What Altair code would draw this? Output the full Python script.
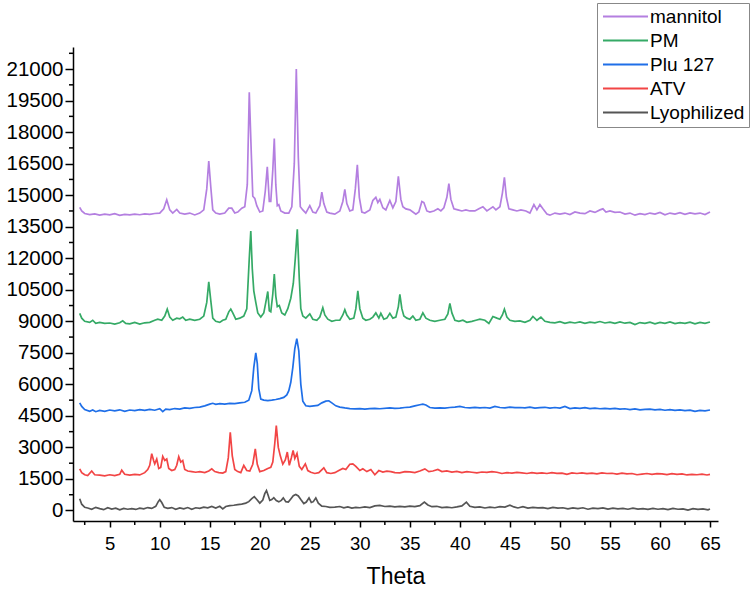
import altair as alt
import pandas as pd

# ---- diffraction patterns (Theta, intensity) ----
mannitol_x = [2.0, 2.2, 2.5, 3.0, 3.5, 4.0, 4.5, 5.0, 5.5, 6.0, 6.5, 7.0, 7.5, 8.0, 8.5, 9.0, 9.5, 10.0, 10.4, 10.7,
              11.0, 11.3, 11.7, 12.0, 12.5, 13.0, 13.5, 14.0, 14.4, 14.7, 14.9, 15.1, 15.3, 15.6, 16.0, 16.5, 16.9, 17.2,
              17.5, 17.8, 18.2, 18.5, 18.75, 18.95, 19.15, 19.3, 19.5, 19.7, 20.0, 20.3, 20.55, 20.75, 20.95, 21.1, 21.3,
              21.45, 21.6, 21.75, 21.9, 22.1, 22.5, 22.9, 23.2, 23.45, 23.65, 23.85, 24.05, 24.3, 24.6, 25.0, 25.3, 25.6,
              26.0, 26.2, 26.4, 26.7, 27.0, 27.5, 28.0, 28.3, 28.5, 28.7, 29.0, 29.3, 29.55, 29.75, 29.95, 30.2, 30.5,
              31.0, 31.3, 31.6, 31.8, 32.0, 32.3, 32.6, 33.0, 33.3, 33.6, 33.85, 34.1, 34.3, 34.6, 35.0, 35.3, 35.6, 35.9,
              36.2, 36.4, 36.7, 37.0, 37.4, 37.8, 38.1, 38.4, 38.7, 38.9, 39.1, 39.4, 39.8, 40.2, 40.6, 41.0, 41.5, 41.9,
              42.3, 42.7, 43.0, 43.3, 43.6, 44.0, 44.25, 44.45, 44.65, 44.9, 45.3, 45.7, 46.1, 46.6, 47.0, 47.4, 47.7,
              48.0, 48.3, 48.7, 49.0, 49.5, 50.0, 50.5, 51.0, 51.5, 52.0, 52.5, 53.0, 53.5, 54.0, 54.3, 54.6, 55.0, 55.5,
              56.0, 56.5, 57.0, 57.5, 58.0, 58.5, 59.0, 59.5, 60.0, 60.5, 61.0, 61.5, 62.0, 62.5, 63.0, 63.5, 64.0, 64.5,
              65.0]
mannitol_y = [14420, 14250, 14130, 14080, 14110, 14050, 14100, 14060, 14120, 14040, 14090, 14060, 14100, 14070, 14110,
              14090, 14130, 14150, 14350, 14780, 14300, 14150, 14320, 14150, 14100, 14150, 14060, 14150, 14300, 15300,
              16620, 15400, 14300, 14150, 14100, 14150, 14380, 14380, 14150, 14200, 14380, 14450, 15500, 19900, 17000,
              14950, 14850, 14500, 14200, 14250, 15200, 16350, 14700, 14700, 16200, 17700, 15500, 14500, 14550, 14250,
              14150, 14150, 14450, 16500, 21000, 16800, 14450, 14300, 14150, 14500, 14200, 14150, 14500, 15150, 14600,
              14200, 14150, 14100, 14250, 14700, 15280, 14600, 14250, 14300, 15300, 16450, 14900, 14200, 14150, 14300,
              14750, 14900, 14650, 14800, 14400, 14300, 14750, 14400, 14700, 15900, 14800, 14450, 14350, 14300, 14200,
              14100, 14200, 14700, 14650, 14250, 14200, 14250, 14350, 14250, 14400, 14900, 15550, 14800, 14350, 14300,
              14250, 14300, 14250, 14250, 14350, 14450, 14250, 14350, 14450, 14300, 14450, 15100, 15850, 14900, 14350,
              14300, 14250, 14300, 14250, 14150, 14550, 14300, 14550, 14350, 14100, 14050, 14150, 14100, 14150, 14080,
              14200, 14150, 14120, 14250, 14180, 14300, 14350, 14200, 14250, 14180, 14200, 14100, 14150, 14050, 14120,
              14080, 14150, 14100, 14180, 14070, 14150, 14100, 14170, 14090, 14160, 14110, 14150, 14080, 14200]

pm_x = [2.0, 2.2, 2.5, 3.0, 3.3, 3.6, 4.0, 4.5, 5.0, 5.5, 6.0, 6.3, 6.6, 7.0, 7.5, 8.0, 8.5, 9.0, 9.5, 9.8, 10.2, 10.5,
        10.75, 11.0, 11.3, 11.7, 12.0, 12.3, 12.6, 13.0, 13.5, 14.0, 14.4, 14.7, 14.9, 15.1, 15.3, 15.6, 16.0, 16.3,
        16.6, 16.9, 17.1, 17.3, 17.6, 18.0, 18.4, 18.7, 18.95, 19.1, 19.25, 19.4, 19.6, 19.8, 20.1, 20.4, 20.6, 20.8,
        20.95, 21.1, 21.3, 21.45, 21.6, 21.75, 21.95, 22.2, 22.5, 22.8, 23.1, 23.35, 23.55, 23.75, 23.95, 24.1, 24.3,
        24.6, 25.0, 25.3, 25.7, 26.0, 26.3, 26.5, 26.8, 27.2, 27.6, 28.0, 28.3, 28.5, 28.7, 29.0, 29.4, 29.6, 29.8,
        30.0, 30.3, 30.6, 31.0, 31.3, 31.6, 31.9, 32.1, 32.4, 32.7, 33.0, 33.3, 33.6, 33.85, 34.0, 34.2, 34.4, 34.7,
        35.0, 35.3, 35.6, 36.0, 36.3, 36.6, 37.0, 37.5, 38.0, 38.5, 38.8, 39.0, 39.2, 39.5, 39.9, 40.3, 40.7, 41.2,
        41.6, 42.0, 42.5, 42.9, 43.3, 43.7, 44.0, 44.25, 44.45, 44.7, 45.0, 45.5, 46.0, 46.5, 47.0, 47.3, 47.7, 48.1,
        48.5, 49.0, 49.5, 50.0, 50.5, 51.0, 51.5, 52.0, 52.5, 53.0, 53.5, 54.0, 54.5, 55.0, 55.5, 56.0, 56.5, 57.0,
        57.5, 58.0, 58.5, 59.0, 59.5, 60.0, 60.5, 61.0, 61.5, 62.0, 62.5, 63.0, 63.5, 64.0, 64.5, 65.0]
pm_y = [9380, 9150, 9000, 8950, 9050, 8900, 8950, 8900, 8920, 8870, 8930, 9020, 8900, 8880, 8950, 8870, 8930, 8950,
        9050, 9100, 9050, 9250, 9580, 9200, 9050, 9150, 9120, 9200, 9050, 9100, 9050, 9100, 9250, 9900, 10880, 10000,
        9150, 9000, 8950, 9050, 9100, 9450, 9580, 9400, 9100, 9150, 9250, 9600, 12000, 13300, 11500, 10450, 9900, 9400,
        9200, 9400, 9900, 10420, 9500, 9450, 10300, 11250, 10200, 9700, 9750, 9400, 9300, 9600, 10100, 10800, 12000,
        13380, 11000, 9600, 9250, 9150, 9350, 9100, 9050, 9200, 9650, 9300, 9100, 9000, 9050, 9050, 9300, 9550, 9300,
        9100, 9150, 9600, 10450, 9600, 9150, 9050, 9100, 9200, 9400, 9150, 9380, 9100, 9150, 9380, 9150, 9200, 9700,
        10280, 9600, 9250, 9150, 9100, 9250, 9050, 9100, 9400, 9150, 9050, 9000, 9050, 9100, 9350, 9850, 9400, 9050,
        9000, 9050, 8950, 9000, 9050, 9100, 9050, 8900, 9230, 9150, 9100, 9300, 9580, 9200, 9050, 9000, 9020, 8950,
        9050, 9230, 9050, 9200, 9000, 8950, 8930, 8980, 8900, 8960, 8920, 8970, 8900, 8960, 8930, 8990, 8920, 8960,
        8900, 8970, 8910, 8950, 8850, 8940, 8900, 8960, 8880, 8950, 8900, 8970, 8890, 8940, 8900, 8960, 8880, 8950,
        8900, 8970]

plu_x = [2.0, 2.2, 2.5, 3.0, 3.3, 3.6, 4.0, 4.5, 5.0, 5.5, 6.0, 6.5, 7.0, 7.5, 8.0, 8.5, 9.0, 9.5, 10.0, 10.3, 10.6,
         11.0, 11.5, 12.0, 12.5, 13.0, 13.5, 14.0, 14.5, 15.0, 15.3, 15.6, 16.0, 16.5, 17.0, 17.5, 18.0, 18.5, 18.9,
         19.2, 19.4, 19.6, 19.75, 19.9, 20.1, 20.4, 20.8, 21.2, 21.6, 22.0, 22.4, 22.7, 22.9, 23.1, 23.3, 23.5, 23.7,
         23.9, 24.1, 24.3, 24.6, 25.0, 25.4, 25.8, 26.2, 26.6, 26.9, 27.2, 27.6, 28.0, 28.5, 29.0, 29.5, 30.0, 30.5,
         31.0, 31.5, 32.0, 33.0, 33.5, 34.0, 34.5, 35.0, 35.5, 36.0, 36.3, 36.6, 37.0, 37.5, 38.0, 38.5, 39.0, 39.5,
         40.0, 40.5, 41.0, 41.5, 42.0, 42.5, 43.0, 43.5, 44.0, 44.5, 45.0, 45.5, 46.0, 46.5, 47.0, 47.5, 48.0, 48.5,
         49.0, 49.5, 50.0, 50.5, 51.0, 51.5, 52.0, 52.5, 53.0, 53.5, 54.0, 54.5, 55.0, 55.5, 56.0, 56.5, 57.0, 57.5,
         58.0, 58.5, 59.0, 59.5, 60.0, 60.5, 61.0, 61.5, 62.0, 62.5, 63.0, 63.5, 64.0, 64.5, 65.0]
plu_y = [5120, 4950, 4800, 4720, 4780, 4700, 4760, 4720, 4780, 4740, 4790, 4720, 4780, 4750, 4800, 4760, 4810, 4770,
         4840, 4700, 4820, 4800, 4850, 4820, 4880, 4860, 4900, 4920, 4980, 5060, 5100, 5050, 5080, 5060, 5100, 5080,
         5120, 5150, 5250, 5700, 6800, 7500, 7000, 5800, 5300, 5250, 5230, 5250, 5280, 5320, 5380, 5500, 5700, 6100,
         6800, 7700, 8180, 7600, 6000, 5200, 4980, 4950, 4980, 5000, 5120, 5200, 5220, 5120, 4980, 4920, 4880, 4850,
         4830, 4850, 4820, 4850, 4860, 4840, 4880, 4860, 4870, 4900, 4920, 4980, 5030, 5060, 5020, 4900, 4870, 4880,
         4870, 4900, 4920, 4950, 4900, 4880, 4910, 4880, 4900, 4870, 4950, 4900, 4880, 4920, 4890, 4900, 4880, 4920,
         4870, 4890, 4910, 4870, 4900, 4870, 4950, 4850, 4880, 4860, 4890, 4850, 4870, 4840, 4860, 4830, 4860, 4820,
         4840, 4800, 4830, 4790, 4810, 4820, 4790, 4810, 4770, 4800, 4760, 4790, 4750, 4770, 4720, 4760, 4740, 4780]

atv_x = [2.0, 2.2, 2.5, 2.8, 3.2, 3.5, 4.0, 4.5, 5.0, 5.5, 6.0, 6.2, 6.5, 7.0, 7.5, 8.0, 8.5, 8.8, 9.0, 9.2, 9.4, 9.5,
         9.7, 9.9, 10.1, 10.3, 10.5, 10.7, 10.9, 11.2, 11.5, 11.7, 11.9, 12.1, 12.3, 12.5, 12.8, 13.2, 13.6, 14.0, 14.5,
         14.9, 15.2, 15.5, 15.9, 16.3, 16.6, 16.85, 17.05, 17.25, 17.5, 17.8, 18.1, 18.4, 18.7, 19.0, 19.3, 19.55,
         19.75, 20.0, 20.4, 20.8, 21.1, 21.3, 21.5, 21.65, 21.85, 22.05, 22.3, 22.55, 22.75, 22.95, 23.15, 23.33,
         23.5, 23.72, 23.95, 24.2, 24.55, 24.8, 25.1, 25.5, 25.9, 26.4, 26.7, 27.1, 27.5, 27.9, 28.3, 28.6, 29.0,
         29.3, 29.6, 30.0, 30.3, 30.7, 31.1, 31.5, 31.9, 32.3, 32.7, 33.1, 33.5, 34.0, 34.5, 35.0, 35.5, 36.0, 36.5,
         36.9, 37.3, 37.8, 38.2, 38.7, 39.2, 39.7, 40.2, 40.7, 41.2, 41.7, 42.2, 42.7, 43.2, 43.7, 44.2, 44.7, 45.2,
         45.7, 46.2, 46.7, 47.2, 47.7, 48.2, 48.7, 49.2, 49.7, 50.2, 50.7, 51.2, 51.7, 52.2, 52.7, 53.2, 53.7, 54.2,
         54.7, 55.2, 55.7, 56.2, 56.7, 57.2, 57.7, 58.2, 58.7, 59.2, 59.7, 60.2, 60.7, 61.2, 61.7, 62.2, 62.7, 63.2,
         63.7, 64.2, 64.7, 65.0]
atv_y = [1980, 1800, 1700, 1660, 1880, 1700, 1680, 1650, 1700, 1660, 1720, 1920, 1720, 1680, 1720, 1690, 1800, 1950,
         2150, 2700, 2350, 2220, 2450, 2000, 2050, 2570, 2380, 2450, 2000, 1900, 1950, 2150, 2560, 2300, 2380, 1950,
         1880, 1850, 1820, 1850, 1800, 1880, 1980, 1850, 1800, 1780, 1850, 2500, 3720, 2600, 1950, 1850, 1800, 2140,
         1900, 1880, 2200, 2930, 2200, 1850, 1900, 2000, 2050, 2300, 3200, 4040, 3000, 2600, 2200, 2400, 2780, 2150,
         2500, 2860, 2480, 2720, 2100, 1950, 2220, 1900, 1820, 1760, 1800, 2030, 1800, 1760, 1800, 1900, 2000, 1950,
         2200, 2220, 2100, 1900, 1980, 1850, 1950, 1700, 1900, 1830, 1870, 1850, 1800, 1790, 1850, 1840, 1800, 1880,
         1980, 1850, 1880, 1950, 1850, 1880, 1830, 1860, 1800, 1850, 1820, 1790, 1830, 1810, 1850, 1820, 1760, 1800,
         1780, 1810, 1790, 1760, 1800, 1770, 1790, 1760, 1800, 1770, 1780, 1720, 1790, 1760, 1790, 1750, 1780, 1740,
         1790, 1760, 1770, 1730, 1780, 1740, 1760, 1700, 1730, 1760, 1720, 1750, 1740, 1710, 1750, 1720, 1740, 1690,
         1720, 1700, 1730, 1690, 1720]

lyo_x = [2.0, 2.2, 2.5, 2.8, 3.2, 3.6, 4.0, 4.4, 4.8, 5.2, 5.6, 6.0, 6.4, 6.8, 7.2, 7.6, 8.0, 8.4, 8.8, 9.2, 9.6, 9.85,
         10.0, 10.2, 10.45, 10.8, 11.2, 11.6, 12.0, 12.4, 12.8, 13.2, 13.6, 14.0, 14.4, 14.8, 15.2, 15.6, 16.0, 16.3,
         16.6, 17.0, 17.4, 17.8, 18.2, 18.6, 18.9, 19.2, 19.45, 19.7, 20.0, 20.3, 20.5, 20.67, 20.85, 21.0, 21.2, 21.4,
         21.65, 21.9, 22.15, 22.35, 22.6, 22.85, 23.1, 23.35, 23.6, 23.85, 24.1, 24.4, 24.65, 24.92, 25.15, 25.35,
         25.6, 25.85, 26.2, 26.6, 27.0, 27.5, 28.0, 28.4, 28.8, 29.2, 29.6, 30.0, 30.5, 31.0, 31.5, 32.0, 32.5, 33.0,
         33.5, 34.0, 34.5, 35.0, 35.5, 36.0, 36.45, 36.8, 37.2, 37.7, 38.2, 38.7, 39.2, 39.7, 40.2, 40.65, 41.0, 41.5,
         42.0, 42.5, 43.0, 43.5, 44.0, 44.5, 45.0, 45.4, 45.8, 46.3, 46.8, 47.3, 47.8, 48.3, 48.8, 49.3, 49.8, 50.3,
         50.8, 51.3, 51.8, 52.3, 52.8, 53.3, 53.8, 54.3, 54.8, 55.3, 55.8, 56.3, 56.8, 57.3, 57.8, 58.3, 58.8, 59.3,
         59.8, 60.3, 60.8, 61.3, 61.8, 62.3, 62.8, 63.3, 63.8, 64.3, 64.8, 65.0]
lyo_y = [560, 300, 150, 120, 60, 150, 90, 40, 130, 70, 110, 30, 100, 60, 90, 50, 110, 80, 140, 100, 200, 420, 510, 380,
         150, 100, 140, 60, 120, 80, 140, 60, 130, 100, 160, 130, 190, 120, 200, 80, 190, 230, 250, 280, 300, 350, 420,
         560, 660, 520, 350, 500, 800, 950, 700, 480, 520, 610, 470, 410, 480, 600, 420, 400, 550, 700, 760, 690, 520,
         330, 400, 600, 380, 420, 600, 350, 210, 190, 150, 160, 190, 130, 170, 110, 150, 130, 170, 140, 220, 240, 190,
         210, 170, 200, 170, 210, 180, 230, 400, 260, 180, 200, 140, 160, 130, 170, 220, 400, 200, 150, 170, 120, 160,
         130, 180, 160, 250, 170, 120, 180, 110, 150, 120, 140, 90, 150, 110, 130, 80, 120, 90, 130, 60, 110, 90, 120,
         70, 110, 80, 100, 60, 110, 70, 90, 50, 100, 60, 90, 40, 100, 60, 80, 20, 90, 50, 80, 30, 70]

series_names = ["mannitol", "PM", "Plu 127", "ATV", "Lyophilized"]
series_colors = ["#B47FE0", "#35AA66", "#1F6FE8", "#F24545", "#555555"]

x_ticks = [5, 10, 15, 20, 25, 30, 35, 40, 45, 50, 55, 60, 65]
x_minor = [2.5, 7.5, 12.5, 17.5, 22.5, 27.5, 32.5, 37.5, 42.5, 47.5, 52.5, 57.5, 62.5]
y_ticks = [0, 1500, 3000, 4500, 6000, 7500, 9000, 10500, 12000, 13500, 15000, 16500, 18000, 19500, 21000]
y_minor = [750, 2250, 3750, 5250, 6750, 8250, 9750, 11250, 12750, 14250, 15750, 17250, 18750, 20250, 21750]

frames = []
for name, xs, ys in [("mannitol", mannitol_x, mannitol_y), ("PM", pm_x, pm_y), ("Plu 127", plu_x, plu_y),
                     ("ATV", atv_x, atv_y), ("Lyophilized", lyo_x, lyo_y)]:
    frames.append(pd.DataFrame({"theta": xs, "intensity": ys, "sample": name}))
patterns = pd.concat(frames, ignore_index=True)

W, H = 645, 474
FONT = "Liberation Sans"
x_scale = alt.Scale(domain=[1.33, 65.8], nice=False, zero=False)
y_scale = alt.Scale(domain=[-500, 22050], nice=False, zero=False)

# one axis definition per channel, shared by every layer so they merge cleanly
x_axis = alt.Axis(values=x_ticks, title="Theta", grid=False, tickSize=6, labelPadding=7,
                  labelFontSize=18.5, labelOverlap=False,
                  titlePadding=13, titleFontSize=23, titleFontWeight="normal")
y_axis = alt.Axis(values=y_ticks, title=None, grid=False, tickSize=8, labelPadding=2,
                  labelFontSize=20.5, labelOverlap=False, format="d")

lines = alt.Chart(patterns).mark_line(strokeWidth=1.7, clip=True).encode(
    x=alt.X("theta:Q", scale=x_scale, axis=x_axis, title="Theta"),
    y=alt.Y("intensity:Q", scale=y_scale, axis=y_axis, title=None),
    color=alt.Color("sample:N", sort=series_names,
                    scale=alt.Scale(domain=series_names, range=series_colors),
                    legend=alt.Legend(title=None, orient="none", legendX=524, legendY=-44,
                                      symbolType="M-3,0L3,0", symbolSize=225, symbolStrokeWidth=2,
                                      labelFontSize=19, labelFont=FONT, labelColor="black",
                                      strokeColor="#888888", fillColor="white", padding=4,
                                      rowPadding=4, symbolOffset=15, labelOffset=15)),
    detail="sample:N",
)

# minor ticks drawn as short rules on the same scales
minor_x = alt.Chart(pd.DataFrame({"theta": x_minor})).mark_rule(color="black", strokeWidth=1.5).encode(
    x=alt.X("theta:Q", scale=x_scale, axis=x_axis, title="Theta"), y=alt.value(H), y2=alt.value(H + 4))
minor_y = alt.Chart(pd.DataFrame({"intensity": y_minor})).mark_rule(color="black", strokeWidth=1.5).encode(
    y=alt.Y("intensity:Q", scale=y_scale, axis=y_axis, title=None), x=alt.value(0), x2=alt.value(-4))

chart = alt.layer(lines, minor_x, minor_y).properties(
    width=W, height=H,
    autosize=alt.AutoSizeParams(type="none"),
    padding={"left": 73, "top": 47, "right": 38, "bottom": 72},
).configure_view(strokeWidth=0).configure_axis(
    labelFont=FONT, titleFont=FONT, labelColor="black", titleColor="black",
    domainColor="black", tickColor="black", domainWidth=1.5, tickWidth=1.5,
)

chart.save("out.html", embed_options={"renderer": "svg", "actions": False})
